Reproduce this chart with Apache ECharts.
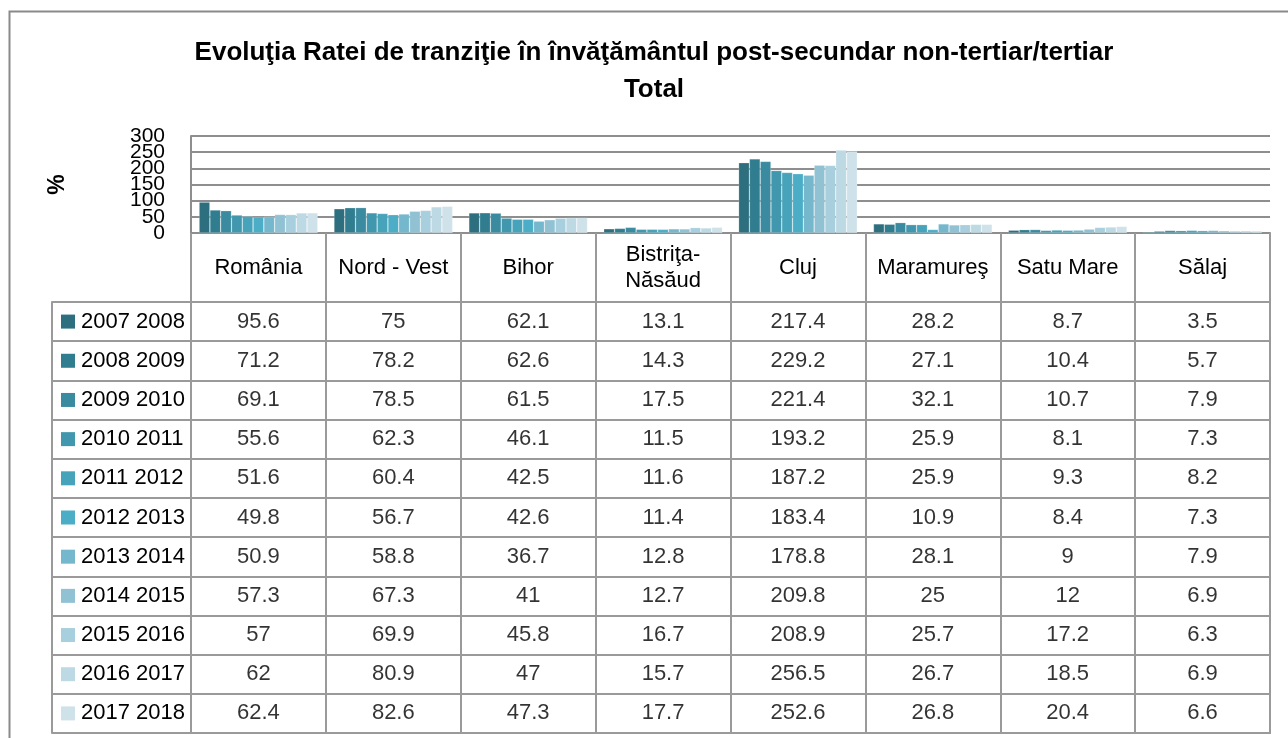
<!DOCTYPE html>
<html>
<head>
<meta charset="utf-8">
<title>Evoluţia Ratei de tranziţie</title>
<script src="https://cdn.jsdelivr.net/npm/echarts@6/dist/echarts.min.js"></script>
<style>
  html, body { margin: 0; padding: 0; background: #ffffff; }
  #chart { width: 1288px; height: 738px; }
</style>
</head>
<body>
<div id="chart"></div>
<script>
// Counties / regions shown on the category axis and as table columns
const categories = ['România', 'Nord - Vest', 'Bihor', 'Bistriţa-\nNăsăud', 'Cluj', 'Maramureş', 'Satu Mare', 'Sălaj'];

// School years (one series each)
const years = ['2007 2008', '2008 2009', '2009 2010', '2010 2011', '2011 2012', '2012 2013',
               '2013 2014', '2014 2015', '2015 2016', '2016 2017', '2017 2018'];

// Transition rate (%) per school year, in category order
const y2007_2008 = [95.6, 75, 62.1, 13.1, 217.4, 28.2, 8.7, 3.5];
const y2008_2009 = [71.2, 78.2, 62.6, 14.3, 229.2, 27.1, 10.4, 5.7];
const y2009_2010 = [69.1, 78.5, 61.5, 17.5, 221.4, 32.1, 10.7, 7.9];
const y2010_2011 = [55.6, 62.3, 46.1, 11.5, 193.2, 25.9, 8.1, 7.3];
const y2011_2012 = [51.6, 60.4, 42.5, 11.6, 187.2, 25.9, 9.3, 8.2];
const y2012_2013 = [49.8, 56.7, 42.6, 11.4, 183.4, 10.9, 8.4, 7.3];
const y2013_2014 = [50.9, 58.8, 36.7, 12.8, 178.8, 28.1, 9, 7.9];
const y2014_2015 = [57.3, 67.3, 41, 12.7, 209.8, 25, 12, 6.9];
const y2015_2016 = [57, 69.9, 45.8, 16.7, 208.9, 25.7, 17.2, 6.3];
const y2016_2017 = [62, 80.9, 47, 15.7, 256.5, 26.7, 18.5, 6.9];
const y2017_2018 = [62.4, 82.6, 47.3, 17.7, 252.6, 26.8, 20.4, 6.6];

// Value-axis tick labels (split over two overlaid axes so none get dropped)
const yTicksEven = [0, 100, 200, 300];
const yTicksOdd = [50, 150, 250];

const seriesValues = [y2007_2008, y2008_2009, y2009_2010, y2010_2011, y2011_2012, y2012_2013,
                      y2013_2014, y2014_2015, y2015_2016, y2016_2017, y2017_2018];

const palette = ['#2d6e7f', '#317d90', '#3a8aa0', '#4197ad', '#47a3ba', '#4cadc6',
                 '#75b7cc', '#90c2d4', '#a8cfdd', '#bdd9e4', '#cfe2ea'];

const FONT = '"Liberation Sans", Arial, sans-serif';
const GRID_COLOR = '#8e8e8e';
const TABLE_COLOR = '#9a9a9a';

// Rich styles for the colour keys in the table's first column
const legendRich = { t: { fontFamily: FONT, fontSize: 22, color: '#000', padding: [0, 0, 0, 6] } };
palette.forEach((c, i) => {
  legendRich['s' + i] = { width: 14, height: 14, backgroundColor: c };
});

// Bars
const barSeries = years.map((name, i) => ({
  name: name,
  type: 'bar',
  xAxisIndex: 0,
  yAxisIndex: 0,
  data: seriesValues[i],
  barGap: '0%',
  barCategoryGap: '12%',
  itemStyle: { color: palette[i], borderColor: 'rgba(255,255,255,0.35)', borderWidth: 0.6 },
  emphasis: { disabled: true },
  silent: true
}));

// Data table cells: [column, row, value]
const cells = [];
seriesValues.forEach((vals, r) => {
  vals.forEach((v, c) => cells.push([c, r, v]));
});

const tickLabelStyle = {
  margin: 26, fontFamily: FONT, fontSize: 21, color: '#000',
  showMinLabel: true, showMaxLabel: true, hideOverlap: false
};

const option = {
  backgroundColor: '#ffffff',
  animation: false,
  title: {
    text: 'Evoluţia Ratei de tranziţie în învăţământul post-secundar non-tertiar/tertiar\nTotal',
    left: 649,
    top: 29,
    textAlign: 'center',
    textStyle: { fontFamily: FONT, fontSize: 26, fontWeight: 'bold', color: '#000', lineHeight: 37 }
  },
  graphic: [{
    type: 'rect',
    left: 7, top: 9,
    shape: { width: 1320, height: 780 },
    style: { fill: 'none', stroke: '#8a8a8a', lineWidth: 2 },
    silent: true
  }],
  grid: [
    { left: 191, right: 18, top: 136, height: 97 },
    { left: 191, right: 18, top: 302, bottom: 5, show: true, borderColor: TABLE_COLOR, borderWidth: 2 }
  ],
  xAxis: [
    {
      type: 'category',
      gridIndex: 0,
      data: categories,
      axisLine: { show: true, lineStyle: { color: GRID_COLOR, width: 2 } },
      axisTick: { show: true, length: 69, interval: 0, lineStyle: { color: TABLE_COLOR, width: 2 } },
      axisLabel: {
        interval: 0, margin: 35, verticalAlign: 'middle',
        fontFamily: FONT, fontSize: 22, color: '#000', lineHeight: 26
      },
      splitLine: { show: false }
    },
    {
      type: 'category',
      gridIndex: 1,
      data: categories,
      axisLine: { show: false },
      axisTick: { show: false },
      axisLabel: { show: false },
      splitLine: { show: true, interval: 0, lineStyle: { color: TABLE_COLOR, width: 2 } }
    }
  ],
  yAxis: [
    {
      type: 'value',
      gridIndex: 0,
      min: 0, max: 300, interval: 50,
      name: '%',
      nameLocation: 'middle',
      nameGap: 122,
      nameRotate: 90,
      nameTextStyle: { fontFamily: FONT, fontSize: 23, fontWeight: 'bold', color: '#000' },
      axisLine: { show: true, lineStyle: { color: GRID_COLOR, width: 2 } },
      axisTick: { show: false },
      axisLabel: Object.assign({}, tickLabelStyle, {
        formatter: v => (yTicksEven.indexOf(v) >= 0 ? String(v) : '')
      }),
      splitLine: { show: true, lineStyle: { color: GRID_COLOR, width: 2 } }
    },
    {
      type: 'category',
      gridIndex: 1,
      inverse: true,
      data: years,
      axisLine: { show: false },
      axisTick: { show: true, length: 139, interval: 0, lineStyle: { color: TABLE_COLOR, width: 2 } },
      axisLabel: {
        interval: 0, margin: 130, align: 'left',
        formatter: (v, i) => '{s' + i + '|}{t|' + v + '}',
        rich: legendRich
      },
      splitLine: { show: true, interval: 0, lineStyle: { color: TABLE_COLOR, width: 2 } }
    },
    {
      type: 'category',
      gridIndex: 1,
      inverse: true,
      position: 'left',
      offset: 139,
      data: years,
      axisLine: { show: true, lineStyle: { color: TABLE_COLOR, width: 2 } },
      axisTick: { show: false },
      axisLabel: { show: false },
      splitLine: { show: false }
    },
    {
      type: 'value',
      gridIndex: 0,
      position: 'left',
      min: 0, max: 300, interval: 50,
      axisLine: { show: false },
      axisTick: { show: false },
      axisLabel: Object.assign({}, tickLabelStyle, {
        formatter: v => (yTicksOdd.indexOf(v) >= 0 ? String(v) : '')
      }),
      splitLine: { show: false }
    }
  ],
  series: barSeries.concat([{
    type: 'scatter',
    xAxisIndex: 1,
    yAxisIndex: 1,
    data: cells,
    symbol: 'circle',
    symbolSize: 2,
    itemStyle: { color: 'rgba(255,255,255,0)' },
    silent: true,
    label: {
      show: true,
      position: 'inside',
      formatter: p => String(p.value[2]),
      fontFamily: FONT,
      fontSize: 22,
      color: '#000'
    }
  }])
};

const chart = echarts.init(document.getElementById('chart'), null, { renderer: 'canvas' });
chart.setOption(option);
</script>
</body>
</html>
